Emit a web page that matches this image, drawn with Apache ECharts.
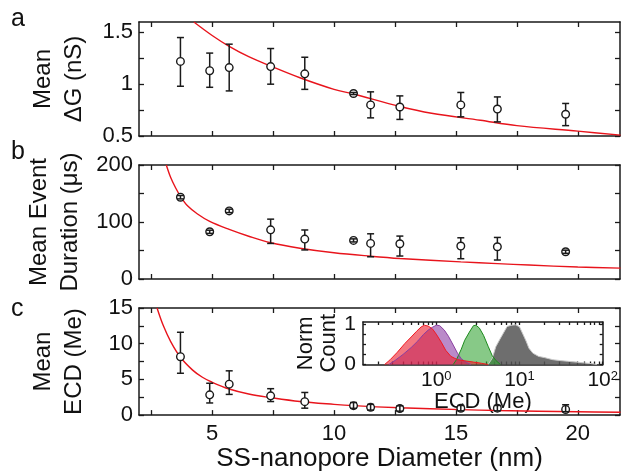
<!DOCTYPE html>
<html>
<head>
<meta charset="utf-8">
<script src="https://cdn.jsdelivr.net/npm/echarts@6/dist/echarts.min.js"></script>
<style>
  html, body { margin: 0; padding: 0; background: #fff; }
  #chart { width: 621px; height: 473px; }
</style>
</head>
<body>
<div id="chart"></div>
<script>
// pore diameters (nm), shared by the three panels
const diameters = [3.7, 4.9, 5.7, 7.4, 8.8, 10.8, 11.5, 12.7, 15.2, 16.7, 19.5]

// panel a: mean dG (nS)
const meanDG = [1.22, 1.13, 1.16, 1.17, 1.10, 0.91, 0.80, 0.78, 0.80, 0.76, 0.71]
const dgLow = [0.98, 0.97, 0.935, 1.0, 0.95, 0.90, 0.675, 0.66, 0.685, 0.636, 0.60]
const dgHigh = [1.45, 1.30, 1.386, 1.344, 1.26, 0.92, 0.926, 0.887, 0.92, 0.877, 0.814]
const dgFit = [[4.25, 1.6], [5.0, 1.47], [5.7, 1.365], [6.5, 1.265], [7.4, 1.175], [8.6, 1.062], [10.0, 0.95], [10.8, 0.905], [12.7, 0.785], [14.0, 0.72], [16.0, 0.652], [17.5, 0.6], [20.0, 0.547], [21.75, 0.508]]

// panel b: mean event duration (us)
const meanDur = [143.5, 82.8, 119.5, 86.3, 70, 67.7, 62.4, 61.8, 57.8, 56.6, 47.8]
const durLow = [140.5, 80, 116.5, 62.4, 51, 65, 39, 40.3, 35.6, 33.3, 45]
const durHigh = [146.5, 85.6, 122.5, 105, 86, 70.4, 79.3, 75.3, 72.3, 72.9, 50.6]
const durFit = [[3.12, 200], [3.3, 178], [3.5, 160], [3.7, 145], [4.0, 128], [4.4, 114], [4.9, 101], [5.7, 87], [6.5, 75], [7.4, 63.5], [8.6, 54], [10.0, 46], [11.5, 40], [12.7, 36], [15.2, 30], [16.7, 27], [18.0, 24.5], [20.0, 21], [21.75, 19]]

// panel c: mean ECD (Me)
const meanECD = [8.18, 2.84, 4.33, 2.7, 1.88, 1.32, 1.09, 0.92, 0.96, 0.97, 0.79]
const ecdLow = [5.86, 1.7, 2.9, 1.9, 0.97, 0.95, 0.7, 0.55, 0.6, 0.6, 0.48]
const ecdHigh = [11.6, 4.46, 6.2, 3.7, 3.17, 1.76, 1.5, 1.3, 1.35, 1.35, 1.45]
const ecdFit = [[2.74, 15], [3.0, 12.5], [3.3, 10.3], [3.7, 8.1], [4.2, 6.3], [4.6, 5.3], [5.0, 4.6], [5.7, 3.65], [6.5, 2.95], [7.4, 2.45], [8.6, 1.9], [10.0, 1.5], [10.8, 1.32], [12.7, 1.02], [15.2, 0.76], [16.7, 0.64], [20.0, 0.46], [21.75, 0.39]]

// inset: normalised ECD histograms, [ECD (Me), count]
const histRed = [[0.24, 0], [0.28, 0.12], [0.34, 0.3], [0.42, 0.52], [0.5, 0.68], [0.58, 0.82], [0.66, 0.93], [0.72, 0.97], [0.8, 0.95], [0.9, 0.88], [1.0, 0.75], [1.15, 0.55], [1.3, 0.35], [1.5, 0.2], [1.8, 0.12], [2.2, 0.09], [2.8, 0.06], [3.5, 0.03], [4.2, 0]]
const histPurple = [[0.27, 0], [0.32, 0.1], [0.4, 0.25], [0.5, 0.42], [0.6, 0.58], [0.7, 0.74], [0.8, 0.85], [0.9, 0.92], [1.0, 0.97], [1.1, 0.96], [1.25, 0.85], [1.4, 0.7], [1.6, 0.48], [1.8, 0.28], [2.0, 0.14], [2.3, 0.05], [2.6, 0]]
const histGreen = [[1.6, 0], [1.75, 0.12], [2.0, 0.38], [2.2, 0.6], [2.5, 0.8], [2.8, 0.96], [3.0, 0.97], [3.3, 0.9], [3.7, 0.72], [4.2, 0.45], [4.7, 0.22], [5.2, 0.1], [5.9, 0]]
const histGrey = [[4.2, 0], [4.7, 0.15], [5.2, 0.44], [5.8, 0.62], [6.3, 0.75], [7.1, 0.94], [8.0, 0.97], [9.0, 0.98], [10, 0.93], [11, 0.75], [12, 0.58], [13, 0.4], [14.5, 0.28], [17, 0.2], [20, 0.17], [25, 0.12], [30, 0.1], [38, 0.08], [48, 0.06], [60, 0.04], [75, 0.02], [85, 0]]

// ticks
const xTicks = [2.5, 5, 7.5, 10, 12.5, 15, 17.5, 20]
const xLabels = [5, 10, 15, 20]
const dgTicks = [0.5, 0.75, 1, 1.25, 1.5]
const dgLabels = [0.5, 1, 1.5]
const durTicks = [0, 50, 100, 150, 200]
const durLabels = [0, 100, 200]
const ecdTicks = [0, 2.5, 5, 7.5, 10, 12.5, 15]
const ecdLabels = [0, 5, 10, 15]
const insetDecades = [0, 1, 2]
const insetYTicks = [0, 0.25, 0.5, 0.75, 1]
const insetYLabels = [0, 1]

const font = "'Liberation Sans', Arial, sans-serif"
const ink = '#1a1a1a'
const fitRed = '#e8141c'

const insetMinor = []
for (let n = -1; n < 2; n++) {
  for (let k = 2; k <= 9; k++) {
    const v = Math.log10(k * Math.pow(10, n))
    if (v > -0.88) insetMinor.push(v)
  }
}
const insetTicks = insetDecades.concat(insetMinor)

// onZero off so every axis stays on the box edge
const axisLine = { show: true, onZero: false, lineStyle: { color: ink, width: 1.5 } }
const tick = (values, len) => ({ show: true, inside: true, length: len || 5, customValues: values, lineStyle: { color: ink, width: 1.3 } })
const label = (values, extra) => Object.assign({ show: true, customValues: values, fontSize: 22, color: '#111', fontFamily: font }, extra || {})

const xPair = (grid, min, max, ticks, len, bottomLabel, extra) => [
  Object.assign({
    type: 'value', gridIndex: grid, position: 'bottom', min: min, max: max,
    axisLine: axisLine, axisTick: tick(ticks, len), splitLine: { show: false },
    axisLabel: bottomLabel || { show: false }
  }, extra || {}),
  {
    type: 'value', gridIndex: grid, position: 'top', min: min, max: max,
    axisLine: axisLine, axisTick: tick(ticks, len), splitLine: { show: false },
    axisLabel: { show: false }
  }
]

const yPair = (grid, min, max, ticks, len, leftLabel, name, nameGap, nameSize, lineHeight) => [
  {
    type: 'value', gridIndex: grid, position: 'left', min: min, max: max,
    axisLine: axisLine, axisTick: tick(ticks, len), splitLine: { show: false },
    axisLabel: leftLabel,
    name: name, nameLocation: 'middle', nameRotate: 90, nameGap: nameGap,
    nameTextStyle: { fontSize: nameSize, color: '#111', fontFamily: font, lineHeight: lineHeight, align: 'center' }
  },
  {
    type: 'value', gridIndex: grid, position: 'right', min: min, max: max,
    axisLine: axisLine, axisTick: tick(ticks, len), splitLine: { show: false },
    axisLabel: { show: false }
  }
]

// error bar with its open circle marker; caps go on top when the bar is shorter than the marker
const renderErr = (params, api) => {
  const x = api.value(0)
  const c = api.coord([x, api.value(1)])
  const lo = api.coord([x, api.value(2)])
  const hi = api.coord([x, api.value(3)])
  const w = 3.5
  const r = 3.8
  const st = { stroke: ink, lineWidth: 1.5 }
  const bars = [
    { type: 'line', shape: { x1: c[0], y1: lo[1], x2: c[0], y2: hi[1] }, style: st },
    { type: 'line', shape: { x1: c[0] - w, y1: lo[1], x2: c[0] + w, y2: lo[1] }, style: st },
    { type: 'line', shape: { x1: c[0] - w, y1: hi[1], x2: c[0] + w, y2: hi[1] }, style: st }
  ]
  const dot = { type: 'circle', shape: { cx: c[0], cy: c[1], r: r }, style: { fill: '#fff', stroke: ink, lineWidth: 1.4 } }
  const tiny = lo[1] - hi[1] < 2 * r
  return { type: 'group', children: tiny ? [dot].concat(bars) : bars.concat([dot]) }
}

const errSeries = (axis, mean, low, high) => ({
  type: 'custom', xAxisIndex: axis, yAxisIndex: axis, z: 5,
  renderItem: renderErr,
  encode: { x: 0, y: [1, 2, 3] },
  data: diameters.map((d, i) => [d, mean[i], low[i], high[i]])
})

const fitSeries = (axis, pts) => ({
  type: 'line', xAxisIndex: axis, yAxisIndex: axis, z: 3,
  data: pts, smooth: 0.35, showSymbol: false, clip: true,
  lineStyle: { color: fitRed, width: 1.4 }
})

const histSeries = (pts, fill, stroke) => ({
  type: 'line', xAxisIndex: 6, yAxisIndex: 6, z: 4,
  data: pts.map(p => [Math.log10(p[0]), p[1]]),
  showSymbol: false, clip: true,
  lineStyle: { color: stroke, width: 1 },
  areaStyle: { color: fill, opacity: 1 }
})

const xMin = 2
const xMax = 21.73

const chart = echarts.init(document.getElementById('chart'), null, { renderer: 'canvas' })

chart.setOption({
  animation: false,
  backgroundColor: '#fff',
  grid: [
    { left: 139, top: 22, width: 481, height: 114 },
    { left: 139, top: 165, width: 481, height: 114 },
    { left: 139, top: 308, width: 481, height: 114 },
    { left: 363, top: 322, width: 242, height: 42.5, show: true, backgroundColor: '#fff', borderWidth: 0 }
  ],
  xAxis: [].concat(
    xPair(0, xMin, xMax, xTicks, 5),
    xPair(1, xMin, xMax, xTicks, 5),
    xPair(2, xMin, xMax, xTicks, 5, label(xLabels, { margin: 8 }), {
      name: 'SS-nanopore Diameter (nm)', nameLocation: 'middle', nameGap: 27,
      nameTextStyle: { fontSize: 26, color: '#111', fontFamily: font }
    }),
    xPair(3, -0.88, 2, insetTicks, 3, label(insetDecades, {
      margin: 5,
      formatter: v => '{b|10}{s|' + Math.round(v) + '}',
      rich: {
        b: { fontSize: 21, color: '#111', fontFamily: font },
        s: { fontSize: 13, color: '#111', fontFamily: font, verticalAlign: 'top' }
      }
    }), {
      name: 'ECD (Me)', nameLocation: 'middle', nameGap: 24,
      nameTextStyle: { fontSize: 22, color: '#111', fontFamily: font }
    })
  ),
  yAxis: [].concat(
    yPair(0, 0.5, 1.6, dgTicks, 5, label(dgLabels, { margin: 6 }), 'Mean\nΔG (nS)', 49, 24, 31),
    yPair(1, 0, 200, durTicks, 5, label(durLabels, { margin: 6 }), 'Mean Event\nDuration (μs)', 49, 24, 31),
    yPair(2, 0, 15, ecdTicks, 5, label(ecdLabels, { margin: 6 }), 'Mean\nECD (Me)', 49, 24, 31),
    yPair(3, 0, 1.05, insetYTicks, 3, label(insetYLabels, { margin: 7, fontSize: 21 }), 'Norm\nCount', 19, 22, 23)
  ),
  graphic: [
    { type: 'text', left: 11, top: 7, style: { text: 'a', fontSize: 25, fontFamily: font, fill: '#111' } },
    { type: 'text', left: 11, top: 140, style: { text: 'b', fontSize: 25, fontFamily: font, fill: '#111' } },
    { type: 'text', left: 11, top: 297, style: { text: 'c', fontSize: 25, fontFamily: font, fill: '#111' } }
  ],
  series: [
    fitSeries(0, dgFit),
    errSeries(0, meanDG, dgLow, dgHigh),
    fitSeries(2, durFit),
    errSeries(2, meanDur, durLow, durHigh),
    fitSeries(4, ecdFit),
    errSeries(4, meanECD, ecdLow, ecdHigh),
    histSeries(histGrey, 'rgba(85, 85, 85, 0.85)', '#c8c8c8'),
    histSeries(histGreen, 'rgba(55, 165, 55, 0.6)', '#1d8a1d'),
    histSeries(histPurple, 'rgba(140, 60, 165, 0.6)', '#8a3fa0'),
    histSeries(histRed, 'rgba(235, 30, 45, 0.6)', '#f01a22')
  ]
})
</script>
</body>
</html>
